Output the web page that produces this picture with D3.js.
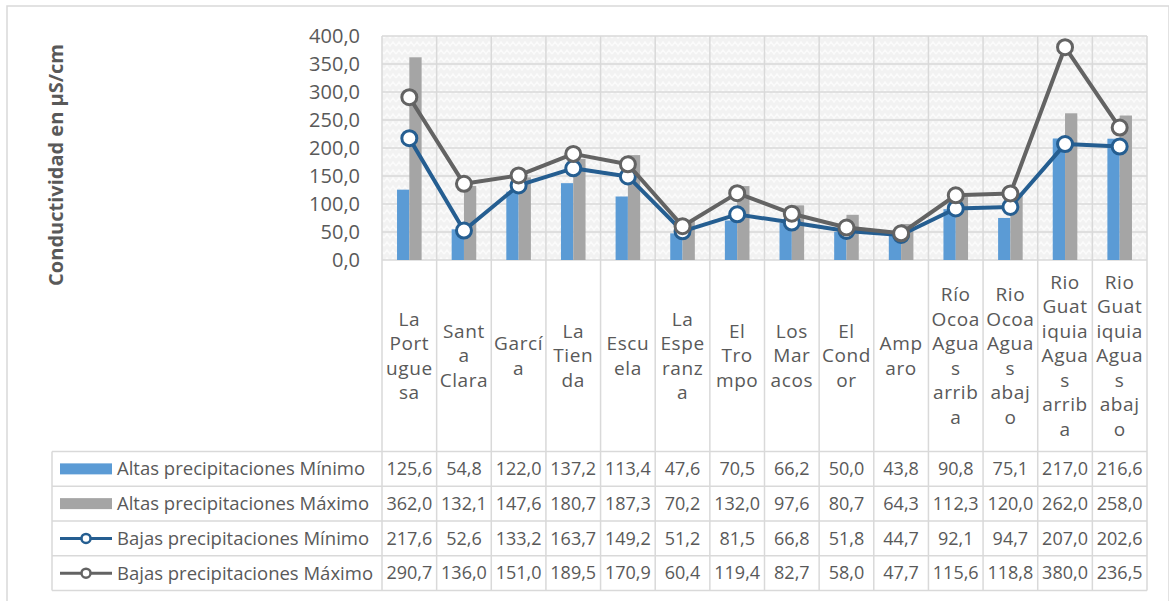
<!DOCTYPE html>
<html>
<head>
<meta charset="utf-8">
<script src="https://cdnjs.cloudflare.com/ajax/libs/d3/7.8.5/d3.min.js"></script>
<style>
  body { margin: 0; background: #fff; }
  svg { font-family: "Open Sans", sans-serif; }
  text { fill: #595959; }
</style>
</head>
<body>
<div id="chart"></div>
<script>
// Datos
const categorias = [
  ["La", "Port", "ugue", "sa"],
  ["Sant", "a", "Clara"],
  ["Garcí", "a"],
  ["La", "Tien", "da"],
  ["Escu", "ela"],
  ["La", "Espe", "ranz", "a"],
  ["El", "Tro", "mpo"],
  ["Los", "Mar", "acos"],
  ["El", "Cond", "or"],
  ["Amp", "aro"],
  ["Río", "Ocoa", "Agua", "s", "arrib", "a"],
  ["Rio", "Ocoa", "Agua", "s", "abaj", "o"],
  ["Rio", "Guat", "iquia", "Agua", "s", "arrib", "a"],
  ["Rio", "Guat", "iquia", "Agua", "s", "abaj", "o"]
];
const altasMin = [125.6, 54.8, 122.0, 137.2, 113.4, 47.6, 70.5, 66.2, 50.0, 43.8, 90.8, 75.1, 217.0, 216.6];
const altasMax = [362.0, 132.1, 147.6, 180.7, 187.3, 70.2, 132.0, 97.6, 80.7, 64.3, 112.3, 120.0, 262.0, 258.0];
const bajasMin = [217.6, 52.6, 133.2, 163.7, 149.2, 51.2, 81.5, 66.8, 51.8, 44.7, 92.1, 94.7, 207.0, 202.6];
const bajasMax = [290.7, 136.0, 151.0, 189.5, 170.9, 60.4, 119.4, 82.7, 58.0, 47.7, 115.6, 118.8, 380.0, 236.5];
const nombresSeries = [
  "Altas precipitaciones Mínimo",
  "Altas precipitaciones Máximo",
  "Bajas precipitaciones Mínimo",
  "Bajas precipitaciones Máximo"
];
const yTicks = [0, 50, 100, 150, 200, 250, 300, 350, 400];

const series = [
  { nome: nombresSeries[0], valores: altasMin, tipo: "bar", cor: "#5b9bd5" },
  { nome: nombresSeries[1], valores: altasMax, tipo: "bar", cor: "#a5a5a5" },
  { nome: nombresSeries[2], valores: bajasMin, tipo: "line", cor: "#255e91" },
  { nome: nombresSeries[3], valores: bajasMax, tipo: "line", cor: "#636363" }
];

const W = 1169, H = 601;
const plot = { left: 382, right: 1147, top: 36, bottom: 260 };
const tabla = { left: 52, top: 451.5, bottom: 590.5 };
const gridColor = "#d9d9d9";

const fmt = d3.formatLocale({ decimal: ",", thousands: ".", grouping: [3], currency: ["", ""] }).format(".1f");

const svg = d3.select("#chart").append("svg")
  .attr("width", W)
  .attr("height", H);

// Fondo con textura
const defs = svg.append("defs");
const pat = defs.append("pattern")
  .attr("id", "textura")
  .attr("width", 12).attr("height", 8)
  .attr("patternUnits", "userSpaceOnUse");
pat.append("rect").attr("width", 12).attr("height", 8).attr("fill", "#f2f2f2");
pat.append("path")
  .attr("d", "M0,6 L3,2 L6,6 L9,2 L12,6")
  .attr("fill", "none").attr("stroke", "#fbfbfb").attr("stroke-width", 1.5);

// Borde exterior
svg.append("rect")
  .attr("x", 7).attr("y", 6)
  .attr("width", W - 7).attr("height", H)
  .attr("fill", "none").attr("stroke", gridColor).attr("stroke-width", 1.5);

// Escalas
const x = d3.scaleBand()
  .domain(d3.range(categorias.length))
  .range([plot.left, plot.right]);

const xSub = d3.scaleBand()
  .domain([0, 1])
  .range([x.bandwidth() * 0.275, x.bandwidth() * 0.725]);

const y = d3.scaleLinear()
  .domain([0, 400])
  .range([plot.bottom, plot.top]);

const filas = d3.scaleBand()
  .domain(nombresSeries)
  .range([tabla.top, tabla.bottom]);

svg.append("rect")
  .attr("x", plot.left).attr("y", plot.top)
  .attr("width", plot.right - plot.left).attr("height", plot.bottom - plot.top)
  .attr("fill", "url(#textura)");

// Líneas de cuadrícula horizontales
svg.append("g")
  .selectAll("line")
  .data(yTicks)
  .join("line")
  .attr("x1", plot.left).attr("x2", plot.right)
  .attr("y1", d => y(d)).attr("y2", d => y(d))
  .attr("stroke", gridColor).attr("stroke-width", 1.5);

// Líneas verticales (gráfico + tabla)
const bordes = d3.range(categorias.length + 1).map(i => i < categorias.length ? x(i) : x(i - 1) + x.bandwidth());
svg.append("g")
  .selectAll("line")
  .data(bordes)
  .join("line")
  .attr("x1", d => d).attr("x2", d => d)
  .attr("y1", plot.top).attr("y2", tabla.bottom)
  .attr("stroke", gridColor).attr("stroke-width", 1.5);

// Eje Y
const yAxis = svg.append("g")
  .attr("transform", `translate(${plot.left},0)`)
  .call(d3.axisLeft(y).tickValues(yTicks).tickSize(0).tickPadding(22).tickFormat(fmt));
yAxis.select(".domain").remove();
yAxis.selectAll("text")
  .attr("fill", "#595959")
  .style("font-size", "20px")
  .style("font-family", "'Open Sans', sans-serif");

// Título eje Y
svg.append("text")
  .attr("transform", "rotate(-90)")
  .attr("x", -165)
  .attr("y", 63)
  .attr("text-anchor", "middle")
  .style("font-size", "20px")
  .style("font-weight", "bold")
  .text("Conductividad en µS/cm");

// Barras
series.filter(s => s.tipo === "bar").forEach((s, k) => {
  svg.append("g")
    .selectAll("rect")
    .data(s.valores)
    .join("rect")
    .attr("x", (d, i) => x(i) + xSub(k))
    .attr("y", d => y(d))
    .attr("width", xSub.bandwidth())
    .attr("height", d => y(0) - y(d))
    .attr("fill", s.cor);
});

// Líneas con marcadores
const linea = d3.line()
  .x((d, i) => x(i) + x.bandwidth() / 2)
  .y(d => y(d));

series.filter(s => s.tipo === "line").forEach(s => {
  const g = svg.append("g");
  g.append("path")
    .datum(s.valores)
    .attr("d", linea)
    .attr("fill", "none")
    .attr("stroke", s.cor)
    .attr("stroke-width", 4)
    .attr("stroke-linejoin", "round");
  g.selectAll("circle")
    .data(s.valores)
    .join("circle")
    .attr("cx", (d, i) => x(i) + x.bandwidth() / 2)
    .attr("cy", d => y(d))
    .attr("r", 7.5)
    .attr("fill", "#fff")
    .attr("stroke", s.cor)
    .attr("stroke-width", 3);
});

// Etiquetas de categoría
const lh = 24.5;
const centroEtiq = (plot.bottom + tabla.top) / 2;
categorias.forEach((lineas, i) => {
  const t = svg.append("text")
    .attr("text-anchor", "middle")
    .style("font-size", "19px")
    .style("letter-spacing", "0.6px");
  lineas.forEach((l, j) => {
    t.append("tspan")
      .attr("x", x(i) + x.bandwidth() / 2)
      .attr("y", centroEtiq + (j - (lineas.length - 1) / 2) * lh)
      .attr("dy", "0.35em")
      .text(l);
  });
});

// Tabla de datos
const tab = svg.append("g");
tab.selectAll("line.fila")
  .data([...nombresSeries.map(n => filas(n)), tabla.bottom])
  .join("line")
  .attr("class", "fila")
  .attr("x1", tabla.left).attr("x2", plot.right)
  .attr("y1", d => d).attr("y2", d => d)
  .attr("stroke", gridColor).attr("stroke-width", 1.5);
tab.append("line")
  .attr("x1", tabla.left).attr("x2", tabla.left)
  .attr("y1", tabla.top).attr("y2", tabla.bottom)
  .attr("stroke", gridColor).attr("stroke-width", 1.5);

series.forEach(s => {
  const cy = filas(s.nome) + filas.bandwidth() / 2;
  if (s.tipo === "bar") {
    tab.append("rect")
      .attr("x", 60).attr("y", cy - 5.5)
      .attr("width", 52).attr("height", 11)
      .attr("fill", s.cor);
  } else {
    tab.append("line")
      .attr("x1", 60).attr("x2", 112)
      .attr("y1", cy).attr("y2", cy)
      .attr("stroke", s.cor).attr("stroke-width", 3);
    tab.append("circle")
      .attr("cx", 86).attr("cy", cy).attr("r", 4.5)
      .attr("fill", "#fff").attr("stroke", s.cor).attr("stroke-width", 2.5);
  }
  tab.append("text")
    .attr("x", 117).attr("y", cy)
    .attr("dy", "0.35em")
    .style("font-size", "18.5px")
    .text(s.nome);
  tab.append("g")
    .selectAll("text")
    .data(s.valores)
    .join("text")
    .attr("x", (d, i) => x(i) + x.bandwidth() / 2)
    .attr("y", cy)
    .attr("dy", "0.35em")
    .attr("text-anchor", "middle")
    .style("font-size", "18px")
    .text(d => fmt(d));
});
</script>
</body>
</html>
